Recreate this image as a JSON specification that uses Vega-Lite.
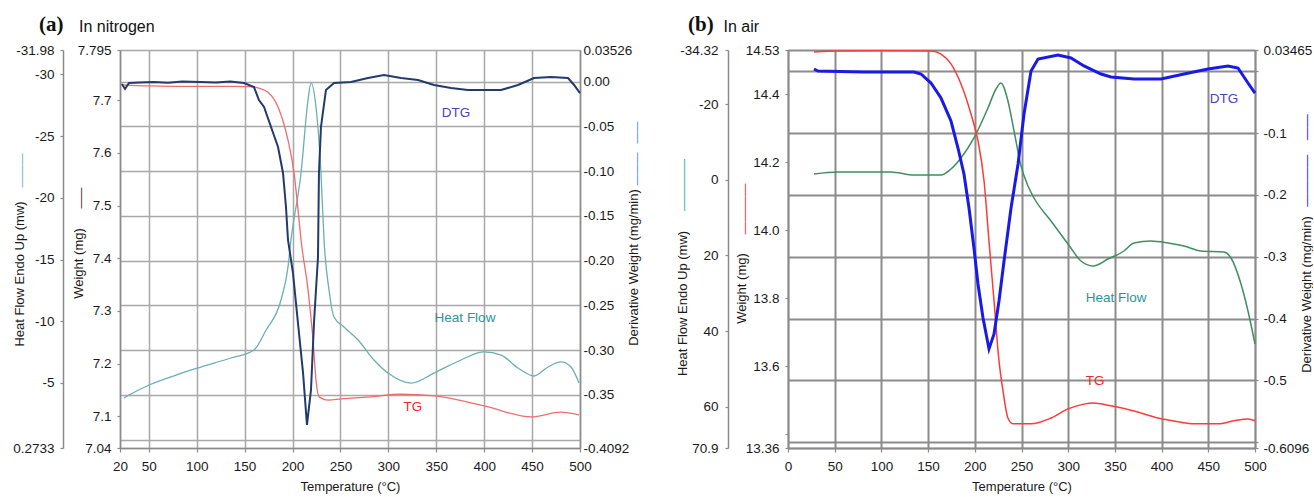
{
 "$schema": "https://vega.github.io/schema/vega-lite/v6.json",
 "padding": {"left": 12, "top": 14, "right": 0, "bottom": 0},
 "background": "white",
 "config": {
  "font": "Liberation Sans",
  "view": {"stroke": null},
  "axis": {"labelFont": "Liberation Sans", "labelFontSize": 13.5, "labelColor": "#1a1a1a", "titleFont": "Liberation Sans", "titleFontSize": 13, "titleFontWeight": "normal", "titleColor": "#1a1a1a", "domainColor": "#8a8a8a", "domainWidth": 1.5, "tickColor": "#8a8a8a", "tickWidth": 1.2, "labelFlush": false, "labelOverlap": false, "grid": false},
  "text": {"font": "Liberation Sans"}
 },
 "datasets": {
  "a_hf": [{"T":24.2,"v":-3.78},{"T":31.5,"v":-4.10},{"T":50.3,"v":-4.83},{"T":78.4,"v":-5.64},{"T":104.5,"v":-6.29},{"T":135.8,"v":-7.02},{"T":159.8,"v":-7.67},{"T":172.4,"v":-9.29},{"T":188,"v":-11.72},{"T":195.3,"v":-14.39},{"T":198.4,"v":-16.58},{"T":208.9,"v":-22.01},{"T":216.2,"v":-27.93},{"T":219.3,"v":-29.31},{"T":224.5,"v":-27.36},{"T":229.7,"v":-22.01},{"T":232.9,"v":-16.58},{"T":238.1,"v":-12.53},{"T":243.3,"v":-10.34},{"T":253.7,"v":-9.53},{"T":268.4,"v":-8.48},{"T":285,"v":-6.86},{"T":299.7,"v":-5.80},{"T":323.7,"v":-4.99},{"T":347.7,"v":-5.80},{"T":375.8,"v":-6.86},{"T":399.8,"v":-7.51},{"T":417.6,"v":-7.26},{"T":435.3,"v":-6.21},{"T":452,"v":-5.56},{"T":466.6,"v":-6.29},{"T":480.2,"v":-6.70},{"T":490.6,"v":-6.29},{"T":499,"v":-4.99}],
  "a_tg": [{"T":22,"v":7.729},{"T":50,"v":7.727},{"T":100,"v":7.726},{"T":140,"v":7.726},{"T":160,"v":7.725},{"T":164,"v":7.723},{"T":174.4,"v":7.715},{"T":184.9,"v":7.687},{"T":195.3,"v":7.624},{"T":201.6,"v":7.562},{"T":206.8,"v":7.473},{"T":208.9,"v":7.435},{"T":216.2,"v":7.340},{"T":221.4,"v":7.245},{"T":224.5,"v":7.169},{"T":227.7,"v":7.137},{"T":237,"v":7.131},{"T":250.6,"v":7.133},{"T":282,"v":7.137},{"T":313,"v":7.142},{"T":348,"v":7.139},{"T":400,"v":7.120},{"T":449,"v":7.099},{"T":480,"v":7.108},{"T":499,"v":7.103}],
  "a_dtg": [{"T":22,"v":-0.0027},{"T":25.2,"v":-0.0083},{"T":29.4,"v":-0.0016},{"T":40,"v":-0.0010},{"T":55,"v":-0.0005},{"T":70,"v":-0.0012},{"T":85,"v":0.0000},{"T":104.5,"v":-0.0005},{"T":120,"v":-0.0010},{"T":135,"v":0.0002},{"T":149.4,"v":-0.0016},{"T":159.8,"v":-0.0061},{"T":165,"v":-0.0206},{"T":170.3,"v":-0.0284},{"T":177.6,"v":-0.0507},{"T":184.9,"v":-0.0731},{"T":190.1,"v":-0.1021},{"T":193.2,"v":-0.1401},{"T":195.3,"v":-0.1769},{"T":200.5,"v":-0.2138},{"T":205.7,"v":-0.2696},{"T":211,"v":-0.3254},{"T":215.1,"v":-0.3835},{"T":219.3,"v":-0.3444},{"T":222.4,"v":-0.2696},{"T":226.6,"v":-0.1959},{"T":227.6,"v":-0.1021},{"T":229.7,"v":-0.0507},{"T":234.9,"v":-0.0094},{"T":243.3,"v":-0.0016},{"T":261,"v":-0.0005},{"T":278.8,"v":0.0040},{"T":295.5,"v":0.0073},{"T":313.2,"v":0.0040},{"T":331,"v":0.0018},{"T":347.7,"v":-0.0038},{"T":365.4,"v":-0.0072},{"T":383.1,"v":-0.0094},{"T":399.8,"v":-0.0094},{"T":417.6,"v":-0.0094},{"T":435.3,"v":-0.0038},{"T":452,"v":0.0040},{"T":469.7,"v":0.0051},{"T":487.5,"v":0.0040},{"T":493.8,"v":-0.0038},{"T":500,"v":-0.0128}],
  "b_hf": [{"T":27.8,"v":-1.54},{"T":53.5,"v":-2.07},{"T":110.3,"v":-2.07},{"T":134.9,"v":-1.27},{"T":163.8,"v":-1.27},{"T":174.5,"v":-2.86},{"T":185.2,"v":-5.77},{"T":199.1,"v":-11.06},{"T":214.1,"v":-18.99},{"T":222.7,"v":-24.01},{"T":228,"v":-25.60},{"T":235.5,"v":-20.84},{"T":242,"v":-12.91},{"T":249.5,"v":-3.65},{"T":257,"v":1.63},{"T":263.4,"v":4.81},{"T":281.6,"v":10.89},{"T":299.8,"v":16.97},{"T":313.7,"v":21.46},{"T":326.6,"v":22.78},{"T":342.6,"v":20.93},{"T":359.7,"v":18.82},{"T":370.4,"v":16.70},{"T":388.7,"v":16.17},{"T":406.9,"v":16.70},{"T":424,"v":17.50},{"T":442.2,"v":18.82},{"T":466.8,"v":19.08},{"T":474.3,"v":20.67},{"T":485,"v":27.54},{"T":492.5,"v":34.68},{"T":500,"v":43.40}],
  "b_tg": [{"T":27.8,"v":14.524},{"T":53.5,"v":14.527},{"T":100,"v":14.528},{"T":153.1,"v":14.527},{"T":163.8,"v":14.518},{"T":174.5,"v":14.489},{"T":185.2,"v":14.430},{"T":195.9,"v":14.342},{"T":203.4,"v":14.263},{"T":209.9,"v":14.145},{"T":215.2,"v":13.968},{"T":220.6,"v":13.792},{"T":225.9,"v":13.616},{"T":230.2,"v":13.528},{"T":235.5,"v":13.448},{"T":240.9,"v":13.431},{"T":260.2,"v":13.431},{"T":281.6,"v":13.448},{"T":299.8,"v":13.475},{"T":316.9,"v":13.489},{"T":326.6,"v":13.492},{"T":345.8,"v":13.484},{"T":370.4,"v":13.469},{"T":396.1,"v":13.448},{"T":417.6,"v":13.437},{"T":434.7,"v":13.431},{"T":460.4,"v":13.431},{"T":477.5,"v":13.440},{"T":492.5,"v":13.445},{"T":500,"v":13.440}],
  "b_dtg": [{"T":27.8,"v":0.0039},{"T":32.1,"v":0.0007},{"T":80,"v":-0.0010},{"T":134.9,"v":-0.0010},{"T":142.4,"v":-0.0042},{"T":153.1,"v":-0.0188},{"T":163.8,"v":-0.0431},{"T":174.5,"v":-0.0803},{"T":182,"v":-0.1240},{"T":188.4,"v":-0.1661},{"T":193.8,"v":-0.2211},{"T":199.1,"v":-0.2859},{"T":203.4,"v":-0.3441},{"T":208.8,"v":-0.3992},{"T":215.2,"v":-0.4493},{"T":220.6,"v":-0.4251},{"T":225.9,"v":-0.3717},{"T":231.3,"v":-0.3069},{"T":238.8,"v":-0.2211},{"T":246.3,"v":-0.1499},{"T":252.7,"v":-0.0689},{"T":260.2,"v":0.0007},{"T":267.7,"v":0.0201},{"T":289.1,"v":0.0266},{"T":303,"v":0.0217},{"T":316.9,"v":0.0088},{"T":335.1,"v":-0.0042},{"T":345.8,"v":-0.0091},{"T":370.4,"v":-0.0123},{"T":399.4,"v":-0.0123},{"T":424,"v":-0.0042},{"T":449.7,"v":0.0039},{"T":471.1,"v":0.0088},{"T":481.8,"v":0.0055},{"T":492.5,"v":-0.0188},{"T":500,"v":-0.0350}],
  "a_ann": [{"label":"DTG","T":370.6,"v":-0.0351},{"label":"Heat Flow","T":380,"v":-0.264},{"label":"TG","T":325.7,"v":-0.3634}],
  "b_ann": [{"label":"DTG","T":466.8,"v":-0.0447},{"label":"Heat Flow","T":351.2,"v":-0.3668},{"label":"TG","T":328.7,"v":-0.5011}]
 },
 "spacing": 208,
 "bounds": "flush",
 "hconcat": [
  {
   "width": 460, "height": 398,
   "title": {"text": "(a)", "subtitle": "\u200b\u00a0\u00a0\u00a0\u00a0\u00a0\u00a0\u00a0\u00a0\u00a0In nitrogen", "anchor": "start", "frame": "group", "dx": -81, "font": "Liberation Serif", "fontSize": 21, "fontWeight": "bold", "color": "#111", "subtitleFont": "Liberation Sans", "subtitleFontSize": 16, "subtitleColor": "#111", "subtitlePadding": -16, "offset": 8},
   "resolve": {"scale": {"y": "independent"}},
   "layer": [
    {"data": {"name": "a_hf"}, "mark": {"type": "line", "color": "#6bb0b0", "strokeWidth": 1.3, "interpolate": "monotone"},
     "encoding": {
      "x": {"field": "T", "type": "quantitative", "scale": {"domain": [20, 500], "nice": false, "zero": false},
            "axis": {"values": [20,50,100,150,200,250,300,350,400,450,500], "title": "Temperature (°C)", "grid": true, "gridColor": "#a8a8a8", "gridWidth": 1.5, "tickSize": 4, "labelPadding": 7, "titlePadding": 8}},
      "y": {"field": "v", "type": "quantitative", "scale": {"domain": [-31.98, 0.2733], "reverse": true, "nice": false, "zero": false},
            "axis": {"orient": "left", "offset": 57, "values": [-31.98,-30,-25,-20,-15,-10,-5,0.2733], "labelExpr": "toString(datum.value)", "tickSize": 3, "labelPadding": 6, "title": "Heat Flow Endo Up (mw)", "titleX": -43.5, "titleY": 223.5, "titleAngle": 270, "titleAlign": "center", "titleBaseline": "middle"}}
     }},
    {"data": {"name": "a_hf"}, "mark": {"type": "line", "opacity": 0},
     "encoding": {
      "x": {"field": "T", "type": "quantitative", "scale": {"domain": [20, 500], "nice": false, "zero": false}},
      "y": {"field": "v", "type": "quantitative", "scale": {"domain": [-31.98, 0.2733], "reverse": true, "nice": false, "zero": false},
            "axis": {"orient": "left", "offset": 57, "labels": false, "ticks": false, "domain": false, "title": "———", "titleColor": "#4aa8a8", "titleFontSize": 11.3, "titleX": -42, "titleY": 120, "titleAngle": 270, "titleAlign": "center", "titleBaseline": "middle"}}
     }},
    {"data": {"name": "a_tg"}, "mark": {"type": "line", "color": "#f26b6b", "strokeWidth": 1.3, "interpolate": "monotone"},
     "encoding": {
      "x": {"field": "T", "type": "quantitative", "scale": {"domain": [20, 500], "nice": false, "zero": false}},
      "y": {"field": "v", "type": "quantitative", "scale": {"domain": [7.04, 7.795], "nice": false, "zero": false},
            "axis": {"orient": "left", "offset": 0, "values": [7.795,7.7,7.6,7.5,7.4,7.3,7.2,7.1,7.04], "labelExpr": "toString(datum.value)", "tickSize": 3, "labelPadding": 6, "title": "Weight (mg)", "titleX": -42, "titleY": 213, "titleAngle": 270, "titleAlign": "center", "titleBaseline": "middle"}}
     }},
    {"data": {"name": "a_tg"}, "mark": {"type": "line", "opacity": 0},
     "encoding": {
      "x": {"field": "T", "type": "quantitative", "scale": {"domain": [20, 500], "nice": false, "zero": false}},
      "y": {"field": "v", "type": "quantitative", "scale": {"domain": [7.04, 7.795], "nice": false, "zero": false},
            "axis": {"orient": "left", "offset": 0, "labels": false, "ticks": false, "domain": false, "title": "——", "titleColor": "#111111", "titleFontSize": 10.5, "titleX": -40, "titleY": 147.5, "titleAngle": 270, "titleAlign": "center", "titleBaseline": "middle"}}
     }},
    {"data": {"name": "a_dtg"}, "mark": {"type": "line", "color": "#223a6c", "strokeWidth": 2},
     "encoding": {
      "x": {"field": "T", "type": "quantitative", "scale": {"domain": [20, 500], "nice": false, "zero": false}},
      "y": {"field": "v", "type": "quantitative", "scale": {"domain": [-0.4092, 0.03526], "nice": false, "zero": false},
            "axis": {"orient": "right", "values": [0.03526,0,-0.05,-0.1,-0.15,-0.2,-0.25,-0.3,-0.35,-0.4,-0.4092], "labelExpr": "datum.value == 0.03526 ? '0.03526' : datum.value == -0.4092 ? '-0.4092' : datum.value == -0.4 ? '' : datum.value < 0 ? '-' + format(-datum.value, '.2f') : format(datum.value, '.2f')", "grid": true, "gridColor": "#a8a8a8", "gridWidth": 1.5, "tickSize": 0, "labelPadding": 3, "title": "Derivative Weight (mg/min)", "titleX": 53, "titleY": 217, "titleAngle": 270, "titleAlign": "center", "titleBaseline": "middle"}}
     }},
    {"data": {"name": "a_dtg"}, "mark": {"type": "line", "opacity": 0},
     "encoding": {
      "x": {"field": "T", "type": "quantitative", "scale": {"domain": [20, 500], "nice": false, "zero": false}},
      "y": {"field": "v", "type": "quantitative", "scale": {"domain": [-0.4092, 0.03526], "nice": false, "zero": false},
            "axis": {"orient": "right", "labels": false, "ticks": false, "domain": false, "title": "———\u00a0\u00a0\u00a0——", "titleColor": "#4a78b8", "titleFontSize": 11, "titleX": 56, "titleY": 103, "titleAngle": 270, "titleAlign": "center", "titleBaseline": "middle"}}
     }},
    {"data": {"name": "a_ann"}, "mark": {"type": "text", "fontSize": 13.5, "align": "center", "baseline": "middle"},
     "encoding": {
      "x": {"field": "T", "type": "quantitative", "scale": {"domain": [20, 500], "nice": false, "zero": false}},
      "y": {"field": "v", "type": "quantitative", "scale": {"domain": [-0.4092, 0.03526], "nice": false, "zero": false}, "axis": null},
      "text": {"field": "label"},
      "color": {"field": "label", "type": "nominal", "scale": {"domain": ["DTG", "Heat Flow", "TG"], "range": ["#4646b4", "#2a9696", "#f02828"]}, "legend": null}
     }}
   ]
  },
  {
   "width": 467, "height": 398,
   "title": {"text": "(b)", "subtitle": "\u200b\u00a0\u00a0\u00a0\u00a0\u00a0\u00a0\u00a0\u00a0In air", "anchor": "start", "frame": "group", "dx": -100, "font": "Liberation Serif", "fontSize": 21, "fontWeight": "bold", "color": "#111", "subtitleFont": "Liberation Sans", "subtitleFontSize": 16, "subtitleColor": "#111", "subtitlePadding": -16, "offset": 8},
   "resolve": {"scale": {"y": "independent"}},
   "layer": [
    {"data": {"name": "b_hf"}, "mark": {"type": "line", "color": "#3f8f5f", "strokeWidth": 1.5, "interpolate": "monotone"},
     "encoding": {
      "x": {"field": "T", "type": "quantitative", "scale": {"domain": [0, 500], "nice": false, "zero": false},
            "axis": {"values": [0,50,100,150,200,250,300,350,400,450,500], "title": "Temperature (°C)", "grid": true, "gridColor": "#8c8c8c", "gridWidth": 2, "tickSize": 4, "labelPadding": 7, "titlePadding": 8}},
      "y": {"field": "v", "type": "quantitative", "scale": {"domain": [-34.32, 70.9], "reverse": true, "nice": false, "zero": false},
            "axis": {"orient": "left", "offset": 60, "values": [-34.32,-20,0,20,40,60,70.9], "labelExpr": "toString(datum.value)", "tickSize": 3, "labelPadding": 7, "title": "Heat Flow Endo Up (mw)", "titleX": -46, "titleY": 253, "titleAngle": 270, "titleAlign": "center", "titleBaseline": "middle"}}
     }},
    {"data": {"name": "b_hf"}, "mark": {"type": "line", "opacity": 0},
     "encoding": {
      "x": {"field": "T", "type": "quantitative", "scale": {"domain": [0, 500], "nice": false, "zero": false}},
      "y": {"field": "v", "type": "quantitative", "scale": {"domain": [-34.32, 70.9], "reverse": true, "nice": false, "zero": false},
            "axis": {"orient": "left", "offset": 60, "labels": false, "ticks": false, "domain": false, "title": "————", "titleColor": "#3aa6a6", "titleFontSize": 13, "titleX": -45, "titleY": 134.5, "titleAngle": 270, "titleAlign": "center", "titleBaseline": "middle"}}
     }},
    {"data": {"name": "b_tg"}, "mark": {"type": "line", "color": "#ff3a3a", "strokeWidth": 1.5, "interpolate": "monotone"},
     "encoding": {
      "x": {"field": "T", "type": "quantitative", "scale": {"domain": [0, 500], "nice": false, "zero": false}},
      "y": {"field": "v", "type": "quantitative", "scale": {"domain": [13.36, 14.53], "nice": false, "zero": false},
            "axis": {"orient": "left", "offset": 0, "values": [14.53,14.4,14.2,14.0,13.8,13.6,13.4,13.36], "labelExpr": "datum.value == 14.53 ? '14.53' : datum.value == 13.36 ? '13.36' : datum.value == 13.4 ? '' : format(datum.value, '.1f')", "tickSize": 3, "labelPadding": 6, "title": "Weight (mg)", "titleX": -47, "titleY": 238, "titleAngle": 270, "titleAlign": "center", "titleBaseline": "middle"}}
     }},
    {"data": {"name": "b_tg"}, "mark": {"type": "line", "opacity": 0},
     "encoding": {
      "x": {"field": "T", "type": "quantitative", "scale": {"domain": [0, 500], "nice": false, "zero": false}},
      "y": {"field": "v", "type": "quantitative", "scale": {"domain": [13.36, 14.53], "nice": false, "zero": false},
            "axis": {"orient": "left", "offset": 0, "labels": false, "ticks": false, "domain": false, "title": "————", "titleColor": "#ff3030", "titleFontSize": 12.75, "titleX": -44, "titleY": 158.5, "titleAngle": 270, "titleAlign": "center", "titleBaseline": "middle"}}
     }},
    {"data": {"name": "b_dtg"}, "mark": {"type": "line", "color": "#1a1ae6", "strokeWidth": 3},
     "encoding": {
      "x": {"field": "T", "type": "quantitative", "scale": {"domain": [0, 500], "nice": false, "zero": false}},
      "y": {"field": "v", "type": "quantitative", "scale": {"domain": [-0.6096, 0.03465], "nice": false, "zero": false},
            "axis": {"orient": "right", "values": [0.03465,0,-0.1,-0.2,-0.3,-0.4,-0.5,-0.6,-0.6096], "labelExpr": "datum.value == 0 || datum.value == -0.6 ? '' : toString(datum.value)", "grid": true, "gridColor": "#8c8c8c", "gridWidth": 2, "tickSize": 3, "labelPadding": 5, "title": "Derivative Weight (mg/min)", "titleX": 51, "titleY": 244, "titleAngle": 270, "titleAlign": "center", "titleBaseline": "middle"}}
     }},
    {"data": {"name": "b_dtg"}, "mark": {"type": "line", "opacity": 0},
     "encoding": {
      "x": {"field": "T", "type": "quantitative", "scale": {"domain": [0, 500], "nice": false, "zero": false}},
      "y": {"field": "v", "type": "quantitative", "scale": {"domain": [-0.6096, 0.03465], "nice": false, "zero": false},
            "axis": {"orient": "right", "labels": false, "ticks": false, "domain": false, "title": "————\u00a0\u00a0\u00a0\u00a0——", "titleColor": "#1a1ae6", "titleFontSize": 13, "titleX": 51, "titleY": 110, "titleAngle": 270, "titleAlign": "center", "titleBaseline": "middle"}}
     }},
    {"data": {"name": "b_ann"}, "mark": {"type": "text", "fontSize": 13.5, "align": "center", "baseline": "middle"},
     "encoding": {
      "x": {"field": "T", "type": "quantitative", "scale": {"domain": [0, 500], "nice": false, "zero": false}},
      "y": {"field": "v", "type": "quantitative", "scale": {"domain": [-0.6096, 0.03465], "nice": false, "zero": false}, "axis": null},
      "text": {"field": "label"},
      "color": {"field": "label", "type": "nominal", "scale": {"domain": ["DTG", "Heat Flow", "TG"], "range": ["#3a3ac0", "#1a9090", "#ff2020"]}, "legend": null}
     }}
   ]
  }
 ]
}
